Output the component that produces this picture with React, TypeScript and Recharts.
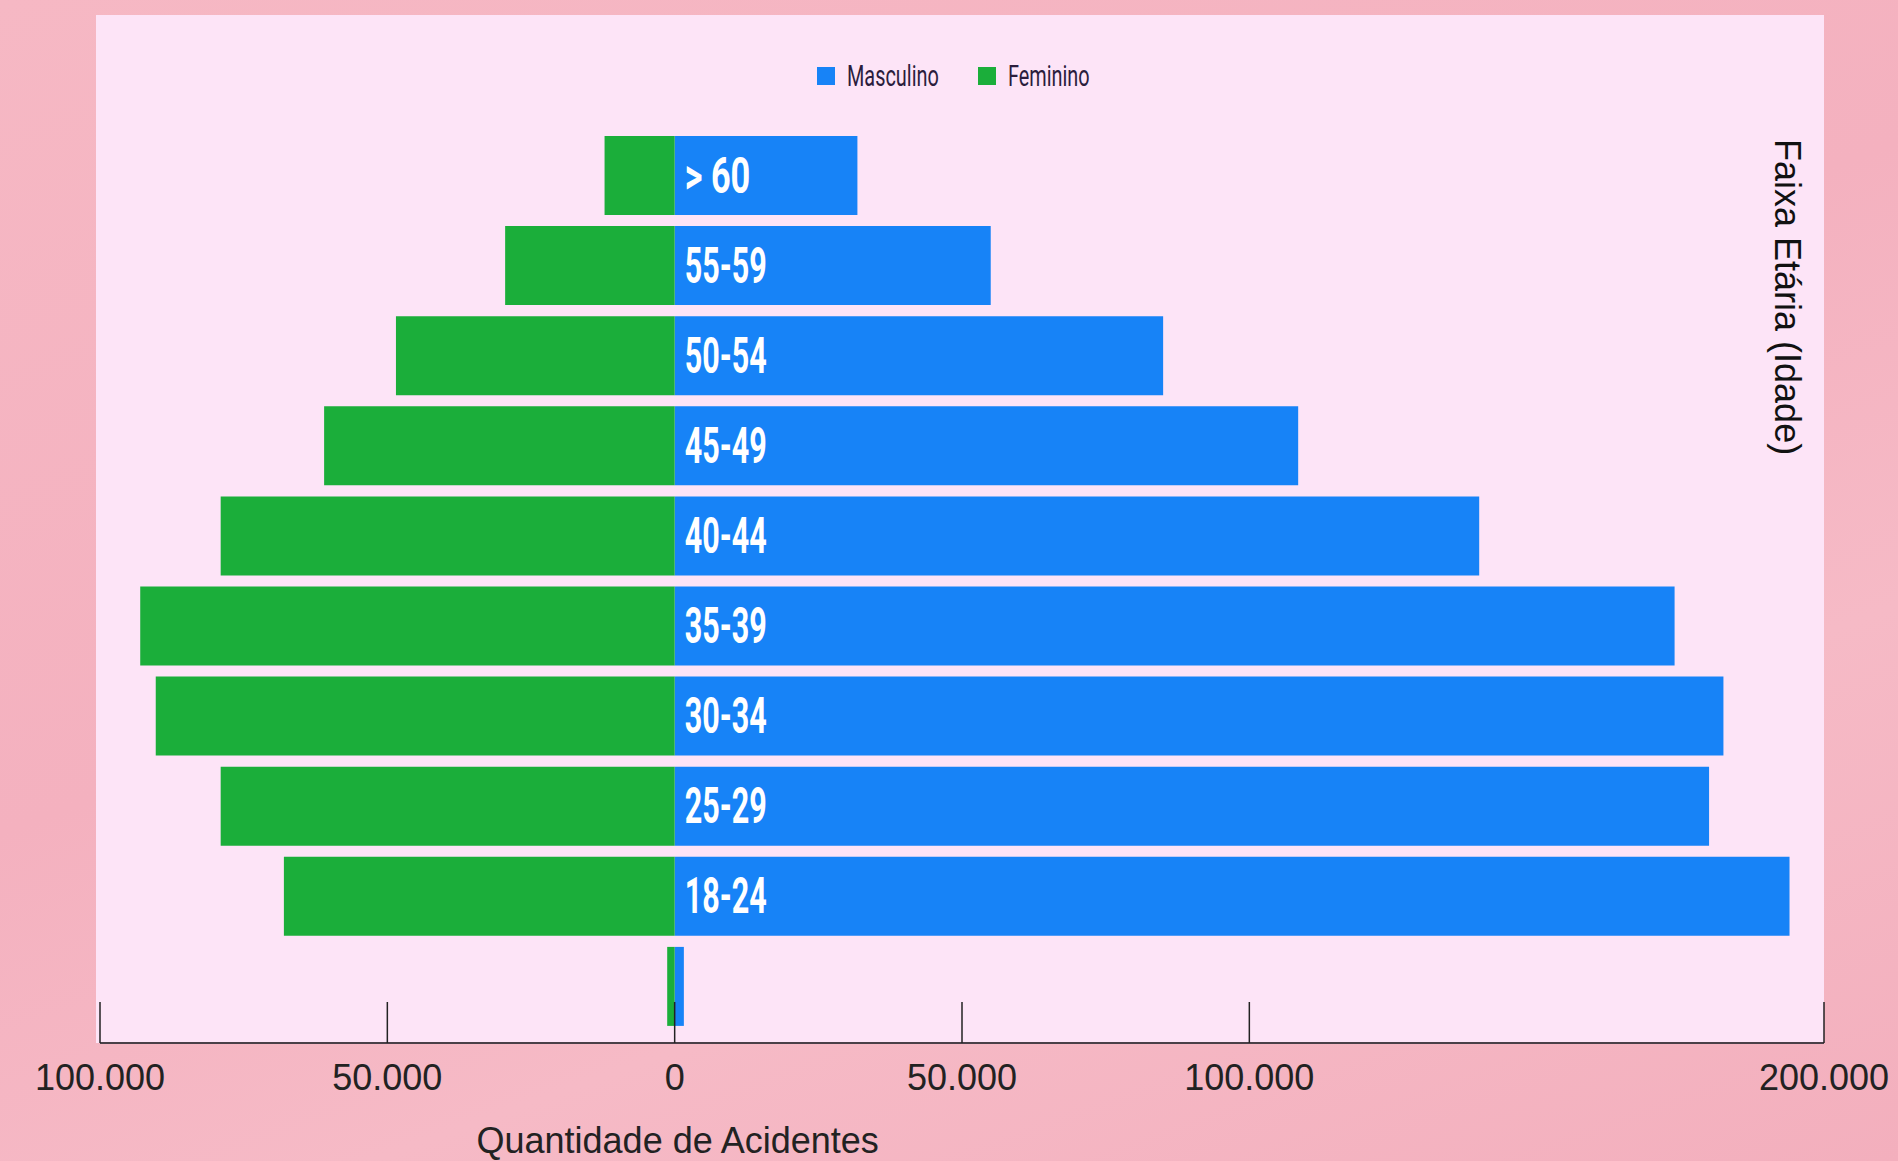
import React from "react";
import { BarChart, Bar, XAxis, YAxis, Legend, LabelList, Label } from "recharts";

const faixas = ["> 60", "55-59", "50-54", "45-49", "40-44", "35-39", "30-34", "25-29", "18-24", "< 18"];
const masculino = [31800, 55000, 85000, 108500, 140000, 174000, 182500, 180000, 194000, 1600];
const feminino = [12200, 29500, 48500, 61000, 79000, 93000, 90300, 79000, 68000, 1300];
const series = ["Masculino", "Feminino"];
const xTicks = [-100000, -50000, 0, 50000, 100000, 200000];
const xDomain: [number, number] = [-100000, 200000];

// feminino fica do lado negativo
const data = faixas.map((faixa, i) => ({
  faixa,
  masculino: masculino[i],
  feminino: -feminino[i],
}));

const AZUL = "#1783f7";
const VERDE = "#1bae3a";
const SANS = "'Liberation Sans', Arial, sans-serif";

const fmt = (v: number) => String(Math.abs(v)).replace(/\B(?=(\d{3})+(?!\d))/g, ".");

function XTick(props: any) {
  const { x, y, payload } = props;
  return (
    <g>
      <line x1={x} x2={x} y1={y - 41} y2={y} stroke="#222" strokeWidth={1.5} />
      <text x={x} y={y + 47} textAnchor="middle" fontFamily={SANS} fontSize={36} fill="#222">
        {fmt(payload.value)}
      </text>
    </g>
  );
}

function XTitle(props: any) {
  const vb = props.viewBox || {};
  const zero = vb.x + (vb.width * (0 - xDomain[0])) / (xDomain[1] - xDomain[0]);
  return (
    <text x={zero + 3} y={vb.y + 110} textAnchor="middle" fontFamily={SANS} fontSize={36} fill="#222">
      Quantidade de Acidentes
    </text>
  );
}

function BarLabel(props: any) {
  const { x, y, width, height, value } = props;
  if (width < 40) return null;
  const s = String(value);
  return (
    <text
      x={x + 10}
      y={y + height / 2}
      fill="#fff"
      fontFamily="Roboto, sans-serif"
      fontWeight={700}
      fontSize={50}
      dominantBaseline="central"
      textLength={s.length * 16.4}
      lengthAdjust="spacingAndGlyphs"
    >
      {s}
    </text>
  );
}

function LegendBox(props: any) {
  // mesma ordem do original: Masculino, depois Feminino
  const items = [...(props.payload || [])].sort(
    (a: any, b: any) => series.indexOf(a.value) - series.indexOf(b.value)
  );
  return (
    <div style={{ display: "flex", justifyContent: "center", alignItems: "center" }}>
      {items.map((it: any, i: number) => {
        const w = String(it.value).length * 10.2;
        return (
          <div key={i} style={{ display: "flex", alignItems: "center", marginRight: i < items.length - 1 ? 35 : 0 }}>
            <span style={{ width: 18, height: 18, background: it.color, display: "inline-block", marginRight: 12 }} />
            <svg width={w + 4} height={40} style={{ display: "block", overflow: "visible" }}>
              <text
                x={0}
                y={30}
                fontFamily="Roboto, sans-serif"
                fontSize={30}
                fill="#2b1d3d"
                textLength={w}
                lengthAdjust="spacingAndGlyphs"
              >
                {it.value}
              </text>
            </svg>
          </div>
        );
      })}
    </div>
  );
}

export default function App() {
  return (
    <div
      style={{
        position: "absolute",
        left: 0,
        top: 0,
        width: 1898,
        height: 1161,
        overflow: "hidden",
        background: "linear-gradient(160deg, #f6b8c4 0%, #f4b1bf 45%, #f6bac6 70%, #f3afbd 100%)",
      }}
    >
      <div style={{ position: "absolute", left: 96, top: 15, width: 1728, height: 1028, background: "#fde4f7" }} />
      <div style={{ position: "absolute", left: 0, top: 0 }}>
        <BarChart
          width={1898}
          height={1161}
          data={data}
          layout="vertical"
          stackOffset="sign"
          margin={{ top: 130, right: 74, bottom: 0, left: 100 }}
        >
          <XAxis
            type="number"
            domain={xDomain}
            ticks={xTicks}
            interval={0}
            allowDataOverflow
            height={118}
            tickSize={0}
            tickMargin={0}
            tickLine={false}
            tick={<XTick />}
            axisLine={{ stroke: "#4a4048", strokeWidth: 2 }}
          >
            <Label content={<XTitle />} />
          </XAxis>
          <YAxis type="category" dataKey="faixa" hide padding={{ top: 0, bottom: 12 }} />
          <Legend
            verticalAlign="middle"
            align="center"
            layout="horizontal"
            content={<LegendBox />}
            wrapperStyle={{ top: 56, left: 6, width: 1898, height: 40 }}
          />
          <Bar dataKey="masculino" name="Masculino" stackId="a" fill={AZUL} barSize={79} isAnimationActive={false}>
            <LabelList dataKey="faixa" content={<BarLabel />} />
          </Bar>
          <Bar dataKey="feminino" name="Feminino" stackId="a" fill={VERDE} barSize={79} isAnimationActive={false} />
        </BarChart>
      </div>
      <div
        style={{
          position: "absolute",
          left: 1765,
          top: 139,
          width: 44,
          lineHeight: "44px",
          writingMode: "vertical-rl",
          fontFamily: SANS,
          fontSize: 36,
          color: "#111",
          whiteSpace: "nowrap",
        }}
      >
        Faixa Etária (Idade)
      </div>
    </div>
  );
}
